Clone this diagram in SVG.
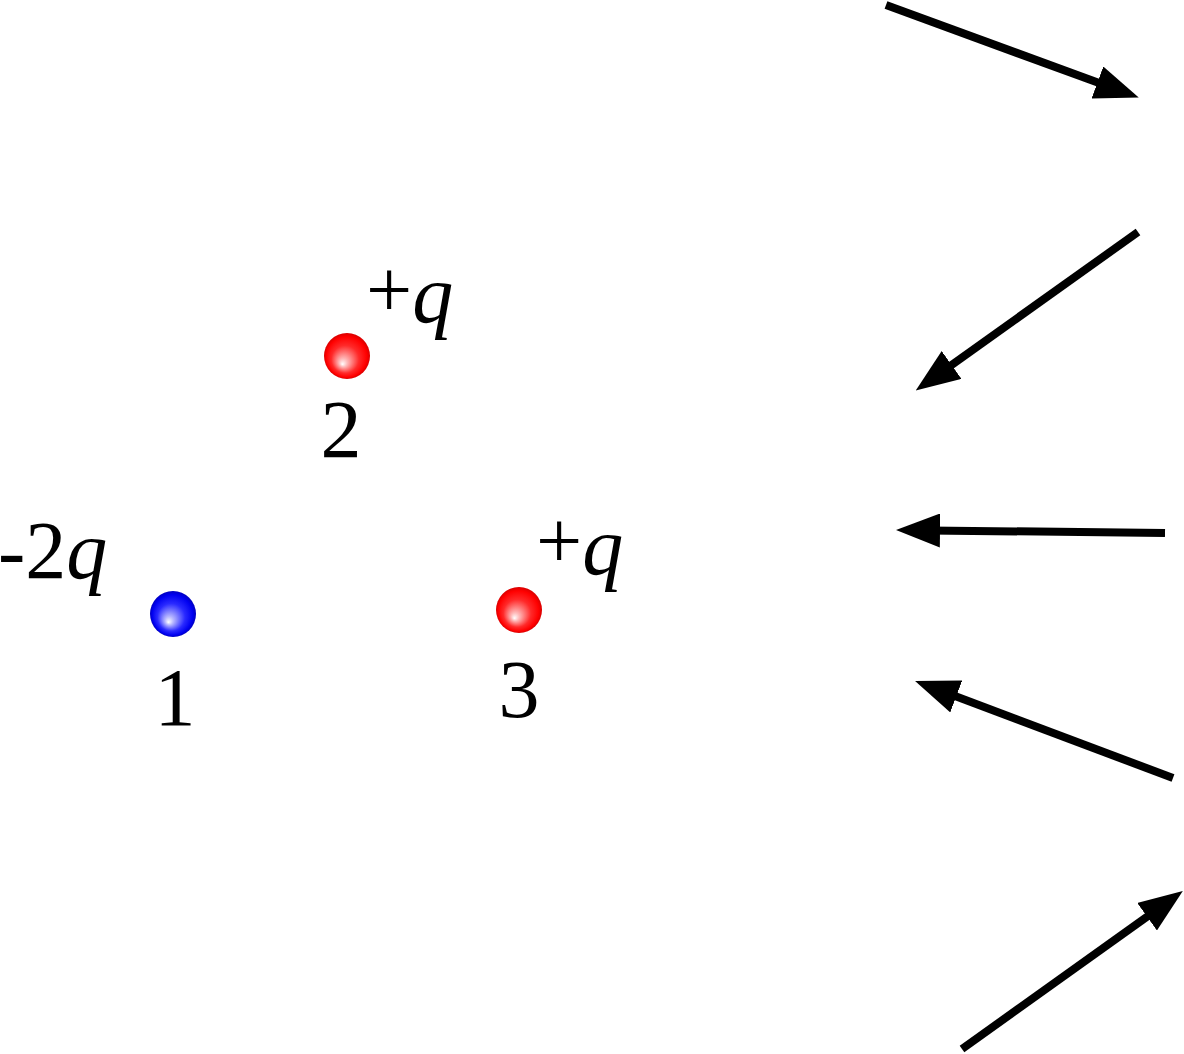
<svg xmlns="http://www.w3.org/2000/svg" width="1184" height="1054" viewBox="0 0 1184 1054">
  <style>
    text { font-family: 'Liberation Serif', 'DejaVu Serif', 'Times New Roman', Times, serif; font-size: 82px; fill: #000; }
    .it { font-style: italic; }
    .arrow { stroke: #000; stroke-width: 8; fill: none; marker-end: url(#head); }
  </style>
  <defs>
    <marker id="head" markerUnits="userSpaceOnUse" viewBox="0 0 44 34" markerWidth="44" markerHeight="34" refX="12" refY="17" orient="auto">
      <path d="M0,0 L44,17 L0,34 Z" fill="#000"/>
    </marker>
    <radialGradient id="gRed" cx="50%" cy="50%" r="50%" fx="40%" fy="68%">
      <stop offset="0" stop-color="#ffffff"/>
      <stop offset="0.18" stop-color="#ffb8b8"/>
      <stop offset="0.6" stop-color="#ff2a2a"/>
      <stop offset="0.88" stop-color="#ff0000"/>
      <stop offset="1" stop-color="#d80000"/>
    </radialGradient>
    <radialGradient id="gBlue" cx="50%" cy="50%" r="50%" fx="40%" fy="68%">
      <stop offset="0" stop-color="#ffffff"/>
      <stop offset="0.18" stop-color="#b8b8ff"/>
      <stop offset="0.6" stop-color="#2a2aff"/>
      <stop offset="0.88" stop-color="#0000f0"/>
      <stop offset="1" stop-color="#0000c0"/>
    </radialGradient>
  </defs>

  <g id="charge1">
    <circle cx="173" cy="614" r="23" fill="url(#gBlue)"/>
    <text x="-2" y="578" style="font-family:'Liberation Serif',serif">-2<tspan class="it">q</tspan></text>
    <text x="175" y="725" text-anchor="middle" style="font-family:'Liberation Serif',serif">1</text>
  </g>

  <g id="charge2">
    <circle cx="347" cy="356" r="23" fill="url(#gRed)"/>
    <text x="366" y="317" style="font-family:'Liberation Serif',serif">+<tspan class="it" y="322">q</tspan></text>
    <text x="341" y="457" text-anchor="middle" style="font-family:'Liberation Serif',serif">2</text>
  </g>

  <g id="charge3">
    <circle cx="519" cy="610" r="23" fill="url(#gRed)"/>
    <text x="536" y="568" style="font-family:'Liberation Serif',serif">+<tspan class="it" y="574">q</tspan></text>
    <text x="519" y="717" text-anchor="middle" style="font-family:'Liberation Serif',serif">3</text>
  </g>

  <g id="connectors">
    <line class="arrow" x1="886" y1="5" x2="1108.7" y2="86.6"/>
    <line class="arrow" x1="1138" y1="232" x2="941.8" y2="371.9"/>
    <line class="arrow" x1="1165" y1="533" x2="928" y2="530.4"/>
    <line class="arrow" x1="1173" y1="778" x2="945" y2="692.3"/>
    <line class="arrow" x1="962" y1="1049" x2="1156.8" y2="909.7"/>
  </g>
</svg>
